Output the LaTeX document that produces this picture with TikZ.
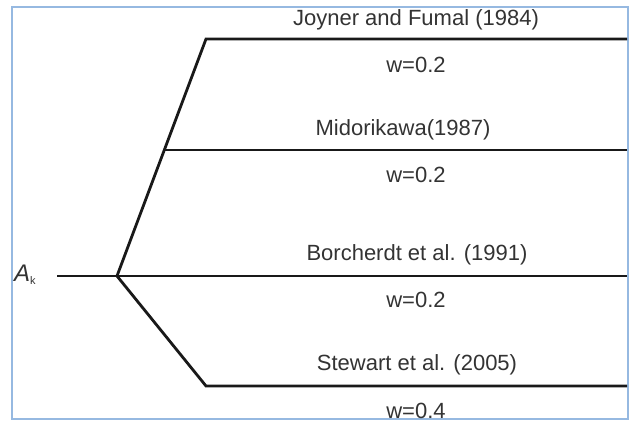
\documentclass[tikz,border=0pt]{standalone}
\usepackage{fontspec}
\setmainfont{Liberation Sans}
\begin{document}
\begin{tikzpicture}[x=1pt,y=-1pt,
  branch/.style={line width=2.8pt,black!90,line join=miter},
  lbl/.style={font=\fontsize{22}{26}\selectfont,text=black!80,inner sep=0pt,anchor=base},
  frameline/.style={draw={rgb,255:red,150;green,185;blue,225},line width=1.3pt}]
\useasboundingbox (0,0) rectangle (630,422);
\draw[frameline] (12,7) rectangle (628,419);
% nodes / coordinates
\node[lbl,anchor=base west] (ak) at (14,282) {\fontsize{24}{28}\selectfont\textit{A}\raisebox{-3pt}{\fontsize{11}{12}\selectfont k}};
\coordinate (s) at (57,276);
\coordinate (b) at (117,276);
\coordinate (t1) at (206,39);
\coordinate (e1) at (627,39);
\coordinate (t2) at (164.3,150);
\coordinate (e2) at (627,150);
\coordinate (e3) at (627,276);
\coordinate (t4) at (206,386);
\coordinate (e4) at (627,386);
\draw[branch] (s) -- (b) -- (e3);
\draw[branch] (b) -- (t1) -- (e1);
\draw[branch] (t2) -- (e2);
\draw[branch] (b) -- (t4) -- (e4);
% labels
\node[lbl] (l1) at (416,25.5) {Joyner and Fumal (1984)};
\node[lbl] (w1) at (416,73) {w=0.2};
\node[lbl] (l2) at (403,136) {Midorikawa(1987)};
\node[lbl] (w2) at (416,183) {w=0.2};
\node[lbl] (l3) at (417,261) {Borcherdt et al. (1991)};
\node[lbl] (w3) at (416,308) {w=0.2};
\node[lbl] (l4) at (417,371) {Stewart et al. (2005)};
\node[lbl] (w4) at (416,418) {w=0.4};
\end{tikzpicture}
\end{document}
